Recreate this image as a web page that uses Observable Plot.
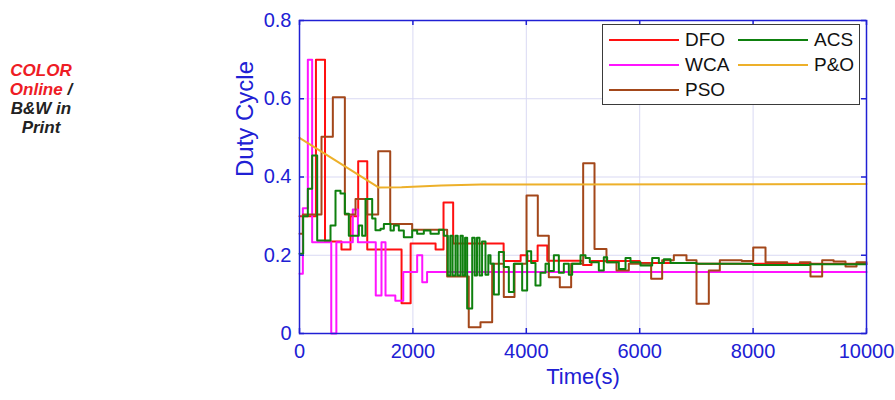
<!DOCTYPE html>
<html>
<head>
<meta charset="utf-8">
<script src="https://cdn.jsdelivr.net/npm/d3@7"></script>
<script src="https://cdn.jsdelivr.net/npm/@observablehq/plot@0.6"></script>
<style>
  html, body { margin: 0; padding: 0; background: #fff; }
  #wrap { position: relative; width: 895px; height: 400px; overflow: hidden; font-family: "Liberation Sans", Arial, Helvetica, sans-serif; }
  #chart { position: absolute; left: 0; top: 0; }
  #note { position: absolute; left: 0; top: 61px; width: 82px; text-align: center; font-weight: bold; font-style: italic; font-size: 17px; line-height: 19px; color: #222; }
  #note .red { color: #ee1c25; }
  #legend { position: absolute; left: 602px; top: 24px; width: 258px; height: 81px; border: 1px solid #3a3a3a; background: #fff; box-sizing: border-box; }
  .lg-line { position: absolute; height: 2px; width: 70px; }
  .lg-text { position: absolute; font-size: 19px; color: #111; line-height: 20px; }
</style>
</head>
<body>
<div id="wrap">
  <div id="note"><span class="red">COLOR</span><br><span class="red">Online</span> /<br>B&amp;W in<br>Print</div>
  <div id="chart"></div>
  <div id="legend"></div>
</div>
<script>
// ---- data ----
const xTicks = [0, 2000, 4000, 6000, 8000, 10000];
const yTicks = [0, 0.2, 0.4, 0.6, 0.8];
const xLabel = "Time(s)";
const yLabel = "Duty Cycle";

const seriesNames = ["DFO", "WCA", "PSO", "ACS", "P&O"];
const seriesColors = ["#ff1010", "#ff14ff", "#a3471a", "#0e800e", "#edb02a"];

const dfoT = [0, 290, 450, 740, 900, 1035, 1195, 1800, 1960, 2400, 2540, 2710, 3600, 3900, 4020, 4200, 4370, 5000, 5150, 6000, 7000, 10000];
const dfoV = [0.30, 0.70, 0.235, 0.215, 0.30, 0.44, 0.215, 0.077, 0.23, 0.215, 0.335, 0.23, 0.185, 0.20, 0.185, 0.225, 0.186, 0.175, 0.185, 0.18, 0.178, 0.178];

const wcaT = [0, 59, 147, 223, 560, 650, 940, 1030, 1345, 1446, 1517, 1690, 1830, 2075, 2165, 2250, 10000];
const wcaV = [0.153, 0.32, 0.70, 0.233, 0.0, 0.233, 0.317, 0.233, 0.097, 0.233, 0.097, 0.084, 0.157, 0.20, 0.131, 0.157, 0.157];

const psoT = [0, 59, 388, 588, 800, 988, 1193, 1388, 1600, 1987, 2604, 2985, 3192, 3398, 3603, 3792, 4004, 4203, 4397, 4591, 4791, 5003, 5203, 5414, 5591, 5808, 6202, 6396, 6602, 6825, 7002, 7219, 7413, 7800, 8002, 8219, 8601, 8824, 9012, 9218, 9420, 9630, 9824, 10000];
const psoV = [0.255, 0.304, 0.503, 0.604, 0.304, 0.344, 0.304, 0.466, 0.28, 0.265, 0.146, 0.016, 0.029, 0.178, 0.093, 0.178, 0.353, 0.25, 0.144, 0.118, 0.178, 0.435, 0.216, 0.182, 0.161, 0.178, 0.14, 0.187, 0.20, 0.187, 0.076, 0.161, 0.187, 0.185, 0.22, 0.182, 0.176, 0.182, 0.146, 0.187, 0.184, 0.171, 0.182, 0.182];

const acsT = [0, 65, 147, 223, 312, 547, 635, 723, 800, 870, 1046, 1105, 1164, 1282, 1340, 1429, 1488, 1605, 1664, 1752, 1840, 1987, 2075, 2193, 2310, 2457, 2546, 2616, 2660, 2700, 2751, 2790, 2840, 2880, 2920, 2957, 3046, 3090, 3130, 3175, 3220, 3280, 3330, 3369, 3428, 3516, 3604, 3692, 3780, 3927, 4015, 4086, 4162, 4250, 4339, 4398, 4486, 4574, 4662, 4750, 4809, 4956, 5044, 5120, 5279, 5367, 5426, 5632, 5750, 5838, 6014, 6220, 6338, 6426, 6543, 7000, 8000, 9000, 10000];
const acsV = [0.204, 0.30, 0.37, 0.455, 0.238, 0.276, 0.365, 0.358, 0.306, 0.25, 0.276, 0.25, 0.344, 0.294, 0.264, 0.268, 0.28, 0.263, 0.276, 0.263, 0.246, 0.263, 0.255, 0.263, 0.255, 0.265, 0.25, 0.148, 0.25, 0.148, 0.25, 0.148, 0.25, 0.148, 0.245, 0.064, 0.245, 0.148, 0.245, 0.148, 0.235, 0.15, 0.20, 0.178, 0.10, 0.208, 0.17, 0.106, 0.178, 0.11, 0.21, 0.18, 0.123, 0.155, 0.178, 0.16, 0.20, 0.155, 0.178, 0.15, 0.178, 0.20, 0.193, 0.182, 0.161, 0.195, 0.182, 0.165, 0.193, 0.182, 0.174, 0.193, 0.18, 0.19, 0.18, 0.178, 0.175, 0.177, 0.177];

const poT = [0, 1400, 1800, 2500, 3200, 10000];
const poV = [0.50, 0.373, 0.374, 0.378, 0.381, 0.382];

// ---- build ----
const toRows = (T, V) => T.map((t, i) => ({t, v: V[i]}));
const stepSeries = [toRows(dfoT, dfoV), toRows(wcaT, wcaV), toRows(psoT, psoV), toRows(acsT, acsV)];
const poRows = toRows(poT, poV);

const blue = "#2020d4";
const grid = "#d9d9f3";
const W = 895, H = 400, mL = 299, mR = 29, mT = 20, mB = 67;
const innerW = W - mL - mR, innerH = H - mT - mB;
const tick = 5;
const font = '"Liberation Sans", Arial, Helvetica, sans-serif';

const marks = [
  Plot.gridX(xTicks, {stroke: grid, strokeOpacity: 1, strokeWidth: 1}),
  Plot.gridY(yTicks, {stroke: grid, strokeOpacity: 1, strokeWidth: 1}),
];
stepSeries.forEach((rows, i) => {
  marks.push(Plot.line(rows, {x: "t", y: "v", curve: "step-after", stroke: seriesColors[i], strokeWidth: 2}));
});
marks.push(Plot.line(poRows, {x: "t", y: "v", curve: "linear", stroke: seriesColors[4], strokeWidth: 2}));
marks.push(
  Plot.tickX(xTicks, {x: d => d, insetTop: innerH - tick, stroke: blue, strokeWidth: 1.5}),
  Plot.tickX(xTicks, {x: d => d, insetBottom: innerH - tick, stroke: blue, strokeWidth: 1.5}),
  Plot.tickY(yTicks, {y: d => d, insetRight: innerW - tick, stroke: blue, strokeWidth: 1.5}),
  Plot.tickY(yTicks, {y: d => d, insetLeft: innerW - tick, stroke: blue, strokeWidth: 1.5}),
  Plot.frame({stroke: blue, strokeWidth: 1.5}),
  Plot.axisX(xTicks, {tickSize: 0, tickPadding: 10, fontSize: 20, color: blue, tickFormat: d => String(d), label: null}),
  Plot.axisY(yTicks, {tickSize: 0, tickPadding: 8, fontSize: 20, color: blue, tickFormat: d => String(d), label: null}),
  Plot.text([xLabel], {text: d => d, frameAnchor: "bottom", dy: 50, fontSize: 22, fill: blue}),
  Plot.text([yLabel], {text: d => d, frameAnchor: "left", dx: -54, rotate: -90, fontSize: 24, fill: blue})
);

const chart = Plot.plot({
  width: W, height: H,
  marginLeft: mL, marginRight: mR, marginTop: mT, marginBottom: mB,
  x: {domain: [0, 10000]},
  y: {domain: [0, 0.8]},
  style: {fontFamily: font, background: "transparent", color: blue},
  marks
});
document.getElementById("chart").appendChild(chart);

// ---- legend ----
const legend = document.getElementById("legend");
const pos = [[0, 0], [0, 1], [0, 2], [1, 0], [1, 1]]; // column, row
seriesNames.forEach((name, si) => {
  const [c, r] = pos[si];
  const line = document.createElement("div");
  line.className = "lg-line";
  line.style.background = seriesColors[si];
  line.style.left = (6 + c * 129) + "px";
  line.style.top = (14 + r * 25) + "px";
  legend.appendChild(line);
  const txt = document.createElement("div");
  txt.className = "lg-text";
  txt.textContent = name;
  txt.style.left = (82 + c * 129) + "px";
  txt.style.top = (5 + r * 25) + "px";
  legend.appendChild(txt);
});
</script>
</body>
</html>
